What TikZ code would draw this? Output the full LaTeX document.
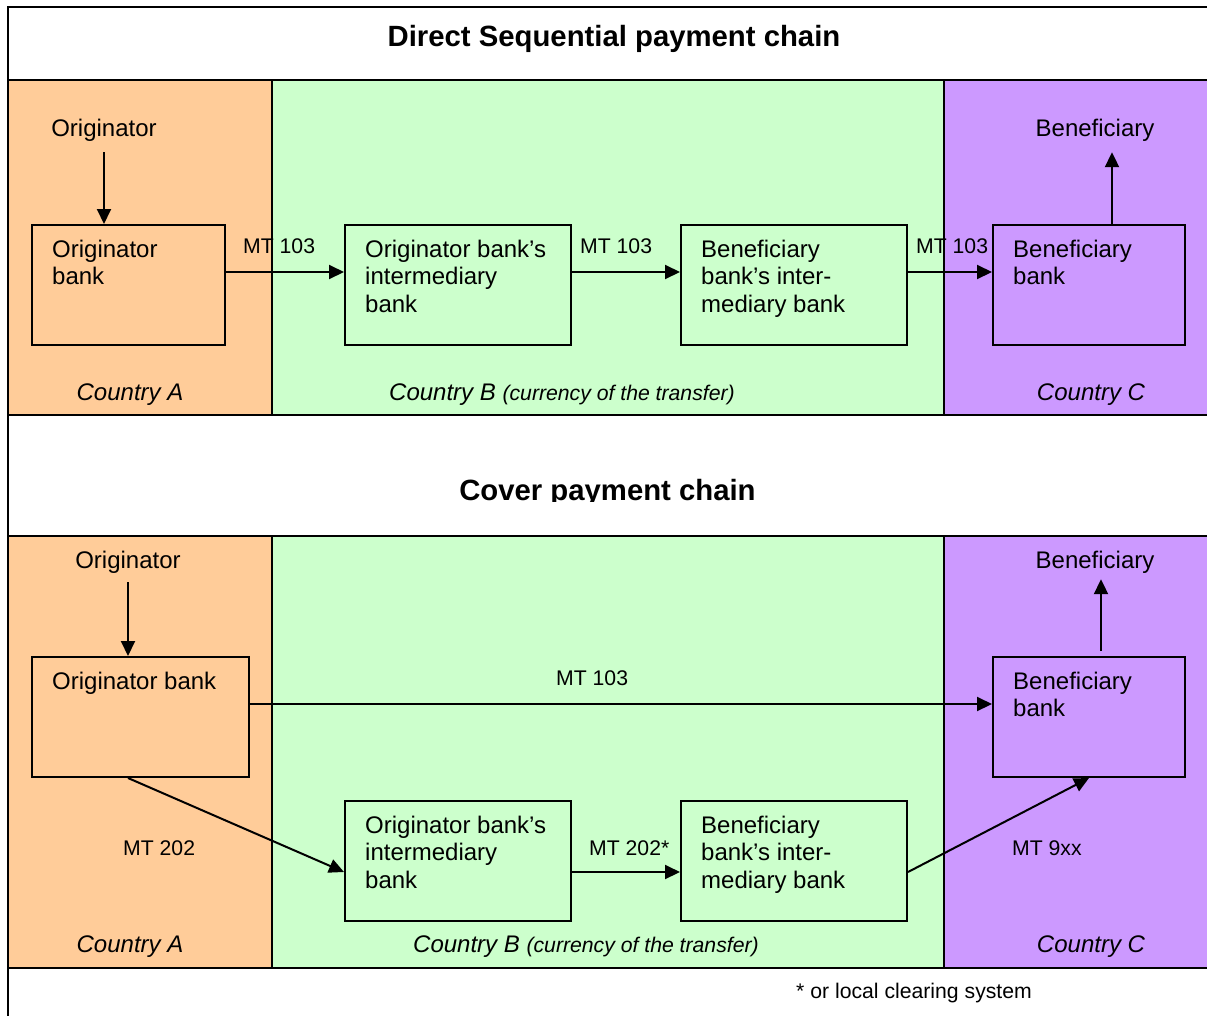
\documentclass[tikz,border=0pt]{standalone}
\usepackage{fontspec}
\setmainfont{Liberation Sans}
\usetikzlibrary{arrows.meta}
\definecolor{cA}{HTML}{FFCC99}
\definecolor{cB}{HTML}{CCFFCC}
\definecolor{cC}{HTML}{CC99FF}
\newcommand\fbody{\fontsize{24}{27.5}\selectfont}
\newcommand\fsmall{\fontsize{21.2}{25}\selectfont}
\newcommand\ftitle{\fontsize{29.3}{34}\selectfont\bfseries}
\pgfdeclarelayer{bg}\pgfdeclarelayer{mid}\pgfsetlayers{bg,mid,main}
\begin{document}
\begin{tikzpicture}[x=1pt,y=-1pt,line width=2pt,
  panel/.style={draw=black,line width=2pt},
  box/.style={draw=black,line width=2pt,rectangle,inner sep=0pt,anchor=north west,minimum height=120pt},
  txt/.style={inner sep=0pt,font=\fbody},
  boxtxt/.style={inner sep=0pt,font=\fbody,align=left,anchor=north west},
  lbl/.style={inner sep=0pt,font=\fsmall,anchor=base west},
  ctry/.style={inner sep=0pt,font=\fbody\itshape},
  arr/.style={-{Triangle[length=15pt,width=14pt]},line width=2pt},
]
\useasboundingbox (0,0) rectangle (1207,1015);
\begin{pgfonlayer}{bg}
\fill[white] (0,0) rectangle (1207,1015);
\filldraw[panel,fill=cA] (8,80) rectangle (272,415);
\filldraw[panel,fill=cB] (272,80) rectangle (944,415);
\filldraw[panel,fill=cC] (944,80) rectangle (1220,415);
\filldraw[panel,fill=cA] (8,536) rectangle (272,968);
\filldraw[panel,fill=cB] (272,536) rectangle (944,968);
\filldraw[panel,fill=cC] (944,536) rectangle (1220,968);
\draw[panel] (1220,7) -- (8,7) -- (8,1025);
\end{pgfonlayer}

% titles
\node[txt,font=\ftitle,anchor=base] (t1) at (614,46) {Direct Sequential payment chain};
\begin{scope}
\clip (300,440) rectangle (900,501);
\node[txt,font=\ftitle,anchor=base] (t2) at (607.5,500) {Cover payment chain};
\end{scope}

% ---------- top chain ----------
\node[txt,anchor=base] (orig1) at (104,136) {Originator};
\node[txt,anchor=base] (ben1) at (1095,136) {Beneficiary};
\node[box,fill=cA,minimum width=193pt] (ob1) at (31,224) {};
\node[box,fill=cB,minimum width=226pt] (oib1) at (344,224) {};
\node[box,fill=cB,minimum width=226pt] (bib1) at (680,224) {};
\node[box,fill=cC,minimum width=192pt] (bb1) at (992,224) {};
\node[boxtxt] (ob1t) at ([shift={(21,13.75)}]ob1.north west) {\strut Originator\\bank};
\node[boxtxt] (oib1t) at ([shift={(21,13.75)}]oib1.north west) {\strut Originator bank’s\\intermediary\\bank};
\node[boxtxt] (bib1t) at ([shift={(21,13.75)}]bib1.north west) {\strut Beneficiary\\bank’s inter-\\mediary bank};
\node[boxtxt] (bb1t) at ([shift={(21,13.75)}]bb1.north west) {\strut Beneficiary\\bank};
\node[lbl] (m1) at (243,253) {MT 103};
\node[lbl] (m2) at (580,253) {MT 103};
\node[lbl] (m3) at (916,253) {MT 103};
\node[ctry,anchor=base] (ca1) at (130,400) {Country A};
\node[ctry,anchor=base west] (cb1) at (389,400) {Country B {\fsmall (currency of the transfer)}};
\node[ctry,anchor=base] (cc1) at (1091,400) {Country C};

\coordinate (r1) at (0,272);
\coordinate (bx1) at (1112,0);
\draw[arr,shorten <=11pt] (orig1.south) -- (orig1.south |- ob1.north);
\draw[arr] (ob1.east |- r1) -- (oib1.west |- r1);
\draw[arr] (oib1.east |- r1) -- (bib1.west |- r1);
\draw[arr] (bib1.east |- r1) -- (bb1.west |- r1);
\draw[arr,shorten >=11pt] (bb1.north -| bx1) -- (ben1.south -| bx1);

% ---------- cover chain ----------
\node[txt,anchor=base] (orig2) at (128,568) {Originator};
\node[txt,anchor=base] (ben2) at (1095,568) {Beneficiary};
\node[box,fill=cA,minimum width=217pt] (ob2) at (31,656) {};
\node[box,fill=cB,minimum width=226pt] (oib2) at (344,800) {};
\node[box,fill=cB,minimum width=226pt] (bib2) at (680,800) {};
\node[box,fill=cC,minimum width=192pt] (bb2) at (992,656) {};
\node[boxtxt] (ob2t) at ([shift={(21,14)}]ob2.north west) {\strut Originator bank};
\node[boxtxt] (oib2t) at ([shift={(21,13.75)}]oib2.north west) {\strut Originator bank’s\\intermediary\\bank};
\node[boxtxt] (bib2t) at ([shift={(21,13.75)}]bib2.north west) {\strut Beneficiary\\bank’s inter-\\mediary bank};
\node[boxtxt] (bb2t) at ([shift={(21,13.75)}]bb2.north west) {\strut Beneficiary\\bank};
\node[lbl] (m4) at (556,685) {MT 103};
\node[lbl] (m5) at (123,855) {MT 202};
\node[lbl] (m6) at (589,855) {MT 202*};
\node[lbl] (m7) at (1012,855) {MT 9xx};
\node[ctry,anchor=base] (ca2) at (130,952) {Country A};
\node[ctry,anchor=base west] (cb2) at (413,952) {Country B {\fsmall (currency of the transfer)}};
\node[ctry,anchor=base] (cc2) at (1091,952) {Country C};
\node[lbl] (fn) at (796,998) {* or local clearing system};

\coordinate (r2) at (0,704);
\coordinate (r3) at (0,872);
\coordinate (bx2) at (1101,0);
\draw[arr,shorten <=9pt] (orig2.south) -- (orig2.south |- ob2.north);
\draw[arr] (ob2.east |- r2) -- (bb2.west |- r2);
\draw[arr] (orig2.south |- ob2.south) -- (oib2.west |- r3);
\draw[arr] (oib2.east |- r3) -- (bib2.west |- r3);
\begin{pgfonlayer}{mid}
\draw[arr] (bib2.east |- r3) -- (bb2.south);
\end{pgfonlayer}
\draw[arr,shorten <=5pt,shorten >=6pt] (bb2.north -| bx2) -- (ben2.south -| bx2);
\end{tikzpicture}
\end{document}
